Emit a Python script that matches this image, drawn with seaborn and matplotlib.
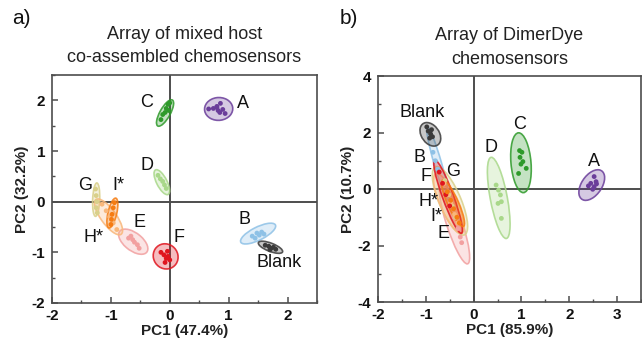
import numpy as np
import pandas as pd
import matplotlib
matplotlib.use("Agg")
import matplotlib.pyplot as plt
from matplotlib.patches import Ellipse
from matplotlib.ticker import MultipleLocator
from matplotlib.colors import to_rgba
import seaborn as sns

# ---------------- data: panel a ----------------
a_groups = ["A", "B", "C", "D", "E", "F", "G", "H*", "I*", "Blank"]
a_pts = {
    "A": ([0.66, 0.74, 0.80, 0.82, 0.85, 0.86, 0.90, 0.94, 0.80],
          [1.83, 1.84, 1.86, 1.80, 1.76, 1.94, 1.82, 1.74, 1.88]),
    "C": ([-0.15, -0.12, -0.08, -0.06, -0.03, 0.00, -0.02],
          [1.62, 1.72, 1.76, 1.84, 1.92, 1.95, 1.80]),
    "D": ([-0.20, -0.16, -0.12, -0.09, -0.06],
          [0.52, 0.45, 0.40, 0.33, 0.26]),
    "G": ([-1.26, -1.25, -1.24, -1.25, -1.23],
          [0.25, 0.12, 0.00, -0.12, -0.22]),
    "H*": ([-1.15, -1.08, -1.02, -0.96, -0.90],
           [-0.05, -0.18, -0.30, -0.42, -0.55]),
    "I*": ([-0.94, -0.96, -0.98, -0.99, -1.00],
           [-0.02, -0.12, -0.25, -0.35, -0.45]),
    "E": ([-0.70, -0.66, -0.63, -0.60, -0.55, -0.52],
          [-0.72, -0.68, -0.75, -0.80, -0.85, -0.92]),
    "F": ([-0.15, -0.10, -0.06, -0.03, 0.00, -0.08, -0.04],
          [-1.00, -1.05, -1.12, -1.08, -1.15, -1.20, -0.98]),
    "B": ([1.40, 1.48, 1.52, 1.56, 1.60, 1.45],
          [-0.68, -0.62, -0.66, -0.60, -0.64, -0.72]),
    "Blank": ([1.62, 1.68, 1.72, 1.76, 1.80, 1.70],
              [-0.86, -0.88, -0.92, -0.90, -0.94, -0.95]),
}
# ellipse: centre x, centre y, width, height, angle (data units)
a_ell_cx = [0.83, 1.50, -0.08, -0.135, -0.62, -0.07, -1.25, -1.04, -0.975, 1.71]
a_ell_cy = [1.83, -0.63, 1.75, 0.385, -0.79, -1.08, 0.04, -0.30, -0.225, -0.90]
a_ell_w = [0.48, 0.68, 0.57, 0.53, 0.62, 0.42, 0.66, 0.81, 0.60, 0.45]
a_ell_h = [0.45, 0.25, 0.18, 0.18, 0.33, 0.50, 0.12, 0.27, 0.15, 0.16]
a_ell_ang = [10, 31, 65, -67, -45, 10, 88, -59, 79, -25]
a_lab_x = [1.25, 1.27, -0.40, -0.38, -0.51, 0.15, -1.44, -1.29, -0.88, 1.85]
a_lab_y = [1.93, -0.35, 1.95, 0.71, -0.41, -0.71, 0.31, -0.71, 0.31, -1.20]

# ---------------- data: panel b ----------------
b_groups = ["B", "E", "G", "H*", "F", "I*", "Blank", "D", "C", "A"]
b_pts = {
    "A": ([2.52, 2.56, 2.45, 2.40, 2.52, 2.49, 2.57],
          [0.44, 0.26, 0.20, 0.11, 0.08, -0.01, 0.18]),
    "C": ([0.96, 1.01, 0.97, 1.03, 0.99, 1.10, 0.94],
          [1.36, 1.30, 1.12, 0.97, 0.88, 0.73, 0.55]),
    "D": ([0.47, 0.52, 0.56, 0.58, 0.51, 0.58],
          [0.14, -0.04, -0.21, -0.45, -0.51, -1.04]),
    "Blank": ([-0.98, -0.95, -0.90, -0.86, -0.92, -0.88],
              [2.20, 2.05, 1.95, 1.85, 1.80, 2.10]),
    "B": ([-0.85, -0.80, -0.75], [1.30, 1.00, 0.70]),
    "F": ([-0.72, -0.65, -0.58, -0.50], [0.60, 0.20, -0.20, -0.60]),
    "G": ([-0.60, -0.52, -0.45, -0.38], [0.30, -0.20, -0.60, -1.00]),
    "H*": ([-0.62, -0.55, -0.48, -0.40, -0.33], [0.20, -0.20, -0.50, -0.90, -1.20]),
    "I*": ([-0.55, -0.48, -0.42, -0.35, -0.30], [-0.10, -0.40, -0.70, -1.00, -1.20]),
    "E": ([-0.48, -0.40, -0.33, -0.28, -0.25], [-0.60, -1.00, -1.40, -1.70, -1.90]),
}
b_ell_cx = [-0.75, -0.40, -0.495, -0.52, -0.535, -0.43, -0.905, 0.525, 0.99, 2.47]
b_ell_cy = [0.91, -1.225, -0.42, -0.51, -0.27, -0.505, 1.935, -0.315, 0.93, 0.14]
b_ell_w = [2.64, 2.90, 2.49, 2.18, 2.66, 1.70, 0.85, 2.89, 2.12, 1.12]
b_ell_h = [0.16, 0.34, 0.48, 0.38, 0.24, 0.24, 0.40, 0.36, 0.42, 0.46]
b_ell_ang = [-80.4, -79.3, -76.7, -76.2, -78, -75.7, -77, 96.2, 92.7, 74]
b_lab_x = [-1.14, -0.63, -0.42, -0.95, -1.00, -0.78, -1.07, 0.37, 0.96, 2.52]
b_lab_y = [1.12, -1.59, 0.61, -0.45, 0.44, -0.98, 2.71, 1.47, 2.27, 0.97]

colors = {
    "A": "#6a3d9a", "B": "#8ec1e6", "C": "#2e9a2a", "D": "#a9d88a",
    "E": "#f2a0a0", "F": "#e0141e", "G": "#d9d08a", "H*": "#f9b77a",
    "I*": "#f57c12", "Blank": "#3a3a3a",
}

sns.set_theme(style="white")
plt.rcParams["font.family"] = ["Liberation Sans", "DejaVu Sans"]
plt.rcParams["axes.unicode_minus"] = False

fig = plt.figure(figsize=(6.42, 3.44), dpi=100)
ax_a = fig.add_axes([52 / 642, 1 - 303 / 344, 265 / 642, 228 / 344])
ax_b = fig.add_axes([378 / 642, 1 - 302 / 344, 263 / 642, 226 / 344])

axis_col = "#4d4d4d"


def to_frame(pts, order):
    rows = []
    for g in order:
        xs, ys = pts[g]
        for x, y in zip(xs, ys):
            rows.append((g, x, y))
    return pd.DataFrame(rows, columns=["group", "x", "y"])


def draw_panel(ax, groups, pts, cx, cy, w, h, ang, lx, ly):
    ax.axhline(0, color=axis_col, lw=1.4, zorder=1)
    ax.axvline(0, color=axis_col, lw=1.4, zorder=1)
    for i, g in enumerate(groups):
        c = colors[g]
        e = Ellipse((cx[i], cy[i]), w[i], h[i], angle=ang[i],
                    facecolor=to_rgba(c, 0.28), edgecolor=to_rgba(c, 0.85),
                    lw=1.2, zorder=2 + i * 0.01)
        ax.add_patch(e)
    df = to_frame(pts, groups)
    sns.scatterplot(data=df, x="x", y="y", hue="group", palette=colors,
                    s=12, edgecolor="none", legend=False, ax=ax, zorder=4)
    for i, g in enumerate(groups):
        ax.text(lx[i], ly[i], g, ha="center", va="center", fontsize=13,
                color="#111111", zorder=5)


draw_panel(ax_a, a_groups, a_pts, a_ell_cx, a_ell_cy, a_ell_w, a_ell_h,
           a_ell_ang, a_lab_x, a_lab_y)
draw_panel(ax_b, b_groups, b_pts, b_ell_cx, b_ell_cy, b_ell_w, b_ell_h,
           b_ell_ang, b_lab_x, b_lab_y)

ax_a.set_xlim(-2, 2.5)
ax_a.set_ylim(-2, 2.5)
ax_a.set_xticks([-2, -1, 0, 1, 2])
ax_a.set_yticks([-2, -1, 0, 1, 2])
ax_a.xaxis.set_minor_locator(MultipleLocator(0.5))
ax_a.yaxis.set_minor_locator(MultipleLocator(0.5))

ax_b.set_xlim(-2, 3.5)
ax_b.set_ylim(-4, 4)
ax_b.set_xticks([-2, -1, 0, 1, 2, 3])
ax_b.set_yticks([-4, -2, 0, 2, 4])
ax_b.xaxis.set_minor_locator(MultipleLocator(0.5))
ax_b.yaxis.set_minor_locator(MultipleLocator(1))

for ax, xl, yl, title in [
    (ax_a, "PC1 (47.4%)", "PC2 (32.2%)", "Array of mixed host\nco-assembled chemosensors"),
    (ax_b, "PC1 (85.9%)", "PC2 (10.7%)", "Array of DimerDye\nchemosensors"),
]:
    ax.set_xlabel(xl, fontsize=11, fontweight="bold", color="#222222", labelpad=1)
    ax.set_ylabel(yl, fontsize=11, fontweight="bold", color="#222222", labelpad=2)
    ax.set_title(title, fontsize=13, color="#222222", pad=9, linespacing=1.5)
    for s in ax.spines.values():
        s.set_color(axis_col)
        s.set_linewidth(1.2)
        s.set_visible(True)
    ax.tick_params(which="major", direction="in", length=4, width=1.1,
                   color=axis_col, labelsize=11, labelcolor="#111111")
    ax.tick_params(axis="x", which="major", pad=4)
    ax.tick_params(axis="y", which="major", pad=5)
    ax.tick_params(which="minor", direction="in", length=2, width=1.0,
                   color=axis_col)
    ax.tick_params(axis="both", which="both", bottom=True, left=True,
                   top=False, right=False)
    for lab in ax.get_xticklabels() + ax.get_yticklabels():
        lab.set_fontweight("bold")

fig.text(12 / 642, 1 - 18 / 344, "a)", fontsize=15, va="center", ha="left", color="#111111")
fig.text(340 / 642, 1 - 18 / 344, "b)", fontsize=15, va="center", ha="left", color="#111111")

fig.savefig("out.png", dpi=100)
